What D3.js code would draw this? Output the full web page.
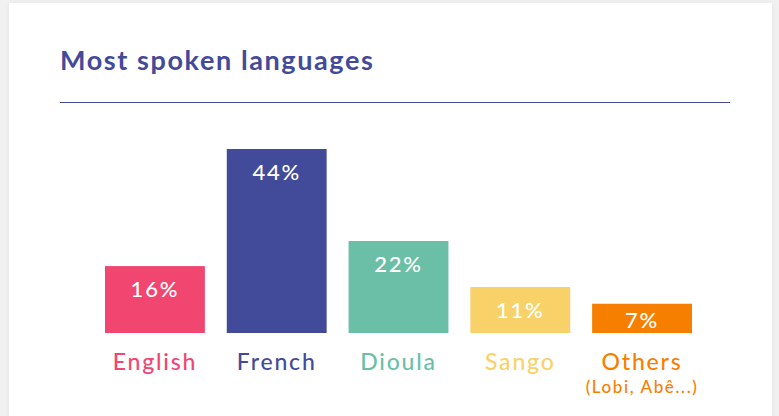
<!DOCTYPE html>
<html>
<head>
<meta charset="utf-8">
<script src="https://cdn.jsdelivr.net/npm/d3@7"></script>
<style>
  html, body { margin: 0; padding: 0; background: #f1f1f1; }
  .card {
    position: absolute; left: 9px; top: 3px; width: 763px; height: 440px;
    background: #fff; box-shadow: 0 0 6px rgba(0,0,0,0.06);
  }
  svg { position: absolute; left: 0; top: 0; }
  text { font-family: Lato, "Open Sans", sans-serif; }
</style>
</head>
<body>
<div class="card"></div>
<svg id="chart" width="779" height="416"></svg>
<script>
// Chart data
const categories = ['English', 'French', 'Dioula', 'Sango', 'Others'];
const values = [16, 44, 22, 11, 7];
const subLabels = ['', '', '', '', '(Lobi, Abê...)'];
const colors = ['#f0466f', '#424b9a', '#6bbfa7', '#f9d169', '#f77f00'];

const svg = d3.select('#chart');

// Title and rule
svg.append('text')
    .attr('x', 60)
    .attr('y', 70)
    .attr('fill', '#434a99')
    .attr('font-size', 27)
    .attr('font-weight', 700)
    .attr('letter-spacing', 1.6)
    .text('Most spoken languages');

svg.append('line')
    .attr('x1', 60).attr('x2', 730)
    .attr('y1', 102.5).attr('y2', 102.5)
    .attr('stroke', '#434a99')
    .attr('stroke-width', 1.2);

// Scales
const baseline = 333;
const xScale = d3.scaleBand()
    .domain(categories)
    .range([105, 692])
    .paddingInner(0.18)
    .paddingOuter(0);

const yScale = d3.scaleLinear()
    .domain([0, 44])
    .range([baseline, 149]);

const bw = xScale.bandwidth();

const g = svg.selectAll('.bar')
    .data(categories)
    .enter()
    .append('g')
    .attr('class', 'bar');

// Bars
g.append('rect')
    .attr('x', d => xScale(d))
    .attr('y', (d, i) => yScale(values[i]))
    .attr('width', bw)
    .attr('height', (d, i) => baseline - yScale(values[i]))
    .attr('fill', (d, i) => colors[i]);

// Value labels inside bars
g.append('text')
    .attr('x', d => xScale(d) + bw / 2)
    .attr('y', (d, i) => Math.min(yScale(values[i]) + 31, baseline - 5))
    .attr('text-anchor', 'middle')
    .attr('fill', '#fff')
    .attr('font-size', 22)
    .attr('font-weight', 500)
    .attr('letter-spacing', 1.8)
    .text((d, i) => values[i] + '%');

// Category labels
g.append('text')
    .attr('x', d => xScale(d) + bw / 2)
    .attr('y', 370)
    .attr('text-anchor', 'middle')
    .attr('fill', (d, i) => colors[i])
    .attr('font-size', 23)
    .attr('font-weight', 500)
    .attr('letter-spacing', 1.8)
    .text(d => d);

g.append('text')
    .attr('x', d => xScale(d) + bw / 2)
    .attr('y', 393)
    .attr('text-anchor', 'middle')
    .attr('fill', (d, i) => colors[i])
    .attr('font-size', 17)
    .attr('font-weight', 500)
    .attr('letter-spacing', 1.6)
    .text((d, i) => subLabels[i]);
</script>
</body>
</html>
